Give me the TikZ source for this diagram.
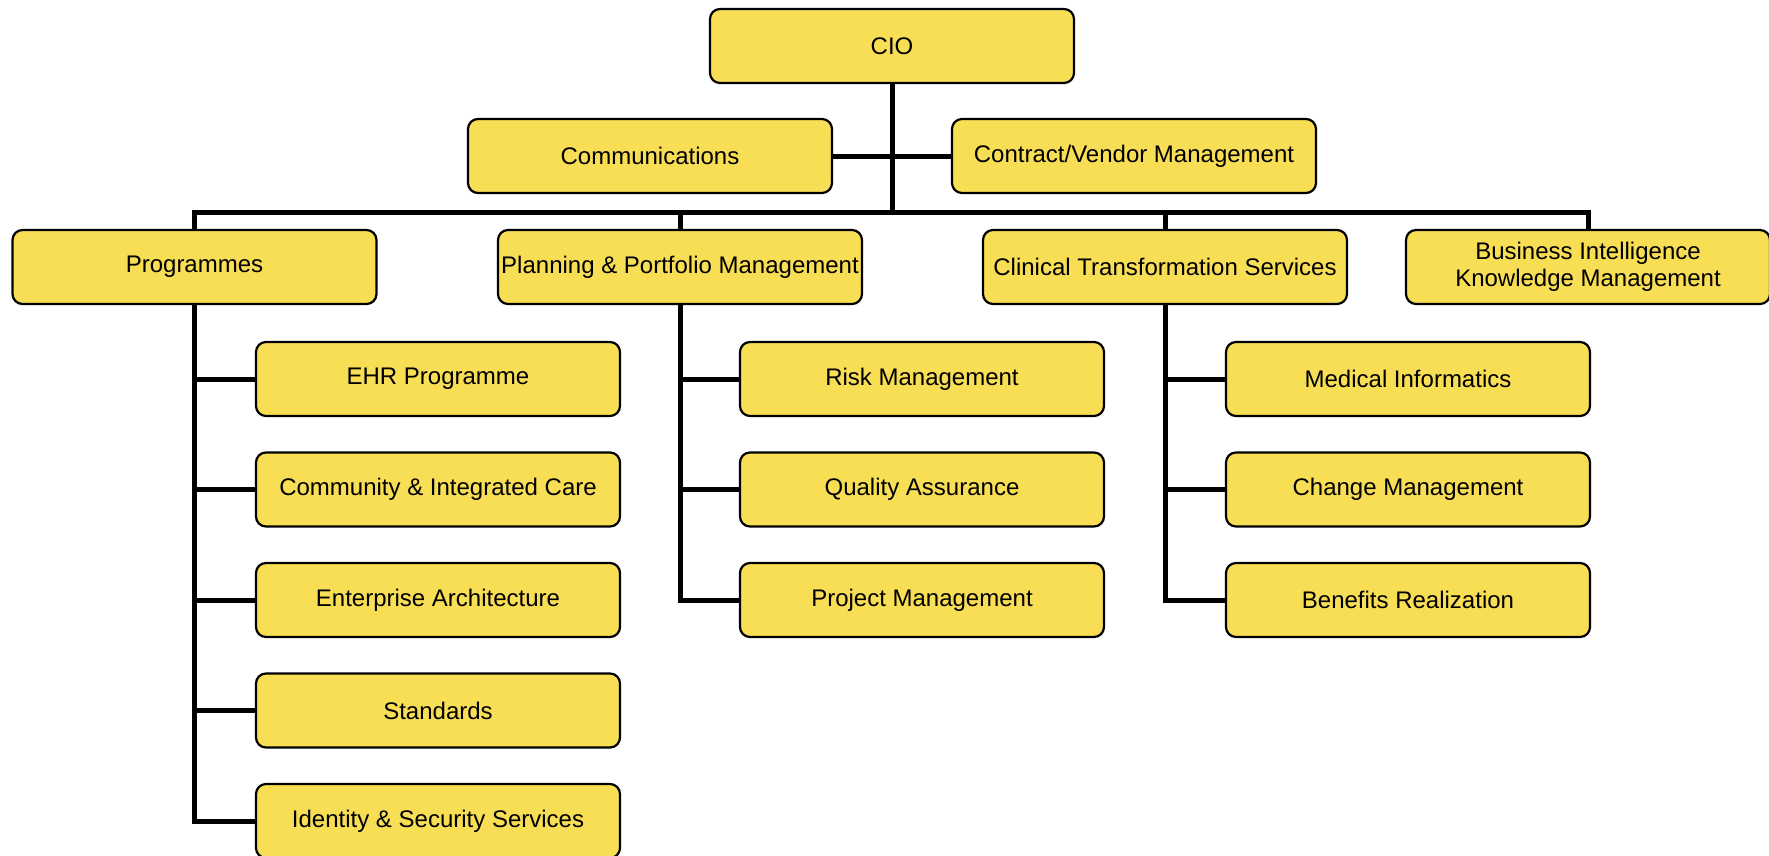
\documentclass[tikz,border=0pt]{standalone}
\usepackage{fontspec}
\setmainfont{Liberation Sans}
\usetikzlibrary{positioning}
\definecolor{boxyellow}{RGB}{248,222,84}

\begin{document}
\begin{tikzpicture}[
    x=1pt, y=-1pt,
    node distance=34.3pt, %% gap between the rows below a unit
    box/.style={
        rectangle,
        rounded corners=10pt,
        draw=black,
        line width=2.2pt,
        fill=boxyellow,
        align=center,
        font=\fontsize{24}{27}\selectfont,
        inner sep=2pt,
        minimum width=364pt,
        minimum height=74pt
    },
    link/.style={
        line width=5pt
    }
]
\useasboundingbox (0,0) rectangle (1769,855);

%% Top
\node[box] (cio) at (892,46) {CIO};
\node[box] (comms) at (650,156) {Communications};
\node[box] (vendor) at (1134,156) {Contract/Vendor Management};
\coordinate (bus) at (892,212);

%% Units
\node[box] (prog) at (194.5,267) {Programmes};
\node[box] (plan) at (680,267) {Planning \& Portfolio Management};
\node[box] (clin) at (1165,267) {Clinical Transformation Services};
\node[box] (bi) at (1588,267) {Business Intelligence\\Knowledge Management};

%% Programmes column
\node[box] (ehr) at (438,379) {EHR Programme};
\node[box, below=of ehr] (care) {Community \& Integrated Care};
\node[box, below=of care] (arch) {Enterprise Architecture};
\node[box, below=of arch] (stds) {Standards};
\node[box, below=of stds] (idsec) {Identity \& Security Services};

%% Planning column
\node[box] (risk) at (922,379) {Risk Management};
\node[box, below=of risk] (qa) {Quality Assurance};
\node[box, below=of qa] (pm) {Project Management};

%% Clinical column
\node[box] (medinf) at (1408,379) {Medical Informatics};
\node[box, below=of medinf] (change) {Change Management};
\node[box, below=of change] (benefits) {Benefits Realization};

%% Connections
\draw[link] (comms) -- (vendor);
\draw[link] (prog.north) |- (bus) -| (bi.north);
\foreach \n in {cio,plan,clin}
    \draw[link] (\n) -- (\n |- bus);

\foreach \n in {ehr,care,arch,stds,idsec}
    \draw[link] (prog) |- (\n);
\foreach \n in {risk,qa,pm}
    \draw[link] (plan) |- (\n);
\foreach \n in {medinf,change,benefits}
    \draw[link] (clin) |- (\n);

\end{tikzpicture}
\end{document}
